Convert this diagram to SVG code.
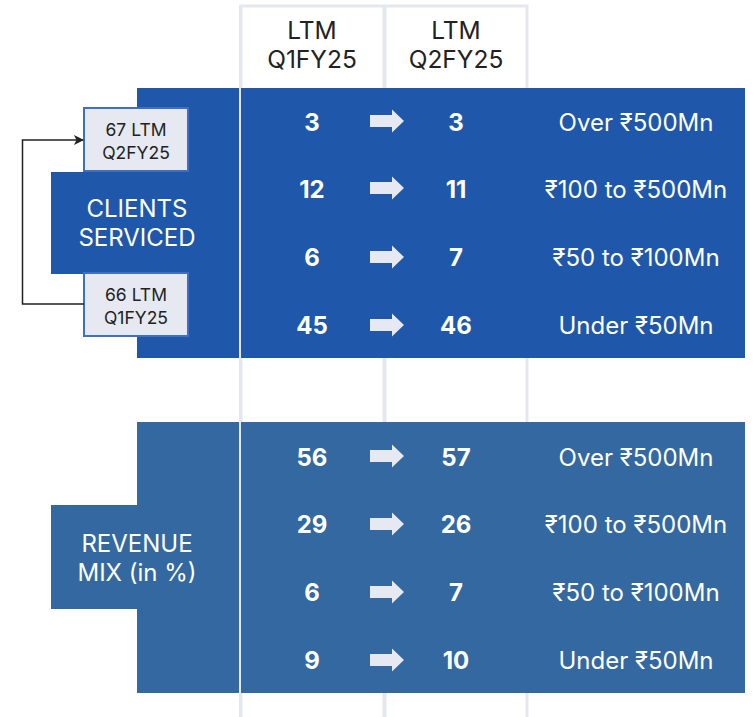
<svg xmlns="http://www.w3.org/2000/svg" width="755" height="717" viewBox="0 0 755 717">
<style>
text{font-family:Inter,"Noto Sans","Liberation Sans",sans-serif;text-anchor:middle}
.hdr{font-size:24.5px;fill:#222}
.num{font-size:24px;font-weight:700;fill:#fff}
.lbl{font-size:24px;fill:#fff}
.side{font-size:24px;fill:#fff}
.tag{font-size:17.5px;fill:#222}
.col{fill:#fff;stroke:#e4e7ef;stroke-width:3}
.top{fill:#1f58aa}
.bot{fill:#3468a0}
.tagbox{fill:#e6e9f2;stroke:#3f6fc0;stroke-width:2}
.div{stroke:#e4e7ef;stroke-width:2}
</style>
<defs>
<marker id="ah" markerWidth="10" markerHeight="10" refX="9" refY="5" orient="auto" markerUnits="userSpaceOnUse">
<path d="M0,0 L10,5 L0,10 L2.5,5 Z" fill="#222"/>
</marker>
<path id="ar" d="M0,-6 L22,-6 L22,-11.5 L34,0 L22,11.5 L22,6 L0,6 Z"/>
</defs>

<g id="header">
<rect class="col" x="241" y="6" width="143" height="720"/>
<rect class="col" x="385" y="6" width="142" height="720"/>
<text class="hdr" x="312" y="39">LTM</text>
<text class="hdr" x="312" y="68">Q1FY25</text>
<text class="hdr" x="456" y="39">LTM</text>
<text class="hdr" x="456" y="68">Q2FY25</text>
</g>

<g id="clients-panel">
<rect class="top" x="137" y="88" width="608" height="270"/>
<rect class="top" x="51" y="172" width="90" height="102"/>
<text class="side" x="137" y="217">CLIENTS</text>
<text class="side" x="137" y="246">SERVICED</text>
<g fill="#e6e9f2">
<use href="#ar" x="370" y="121"/>
<use href="#ar" x="370" y="188"/>
<use href="#ar" x="370" y="257"/>
<use href="#ar" x="370" y="325"/>
</g>
<text class="num" x="312" y="131">3</text><text class="num" x="456" y="131">3</text><text class="lbl" x="636" y="131">Over ₹500Mn</text>
<text class="num" x="312" y="198">12</text><text class="num" x="456" y="198">11</text><text class="lbl" x="636" y="198">₹100 to ₹500Mn</text>
<text class="num" x="312" y="266">6</text><text class="num" x="456" y="266">7</text><text class="lbl" x="636" y="266">₹50 to ₹100Mn</text>
<text class="num" x="312" y="334">45</text><text class="num" x="456" y="334">46</text><text class="lbl" x="636" y="334">Under ₹50Mn</text>
</g>

<g id="revenue-panel">
<rect class="bot" x="137" y="422" width="608" height="271"/>
<rect class="bot" x="51" y="505" width="90" height="104"/>
<text class="side" x="137" y="552">REVENUE</text>
<text class="side" x="137" y="581">MIX (in %)</text>
<g fill="#e6e9f2">
<use href="#ar" x="370" y="456"/>
<use href="#ar" x="370" y="524"/>
<use href="#ar" x="370" y="592"/>
<use href="#ar" x="370" y="660"/>
</g>
<text class="num" x="312" y="466">56</text><text class="num" x="456" y="466">57</text><text class="lbl" x="636" y="466">Over ₹500Mn</text>
<text class="num" x="312" y="533">29</text><text class="num" x="456" y="533">26</text><text class="lbl" x="636" y="533">₹100 to ₹500Mn</text>
<text class="num" x="312" y="601">6</text><text class="num" x="456" y="601">7</text><text class="lbl" x="636" y="601">₹50 to ₹100Mn</text>
<text class="num" x="312" y="669">9</text><text class="num" x="456" y="669">10</text><text class="lbl" x="636" y="669">Under ₹50Mn</text>
</g>

<line class="div" x1="240" y1="5" x2="240" y2="717"/>

<g id="tag-q2">
<rect class="tagbox" x="84" y="108" width="104" height="63"/>
<text class="tag" x="136" y="136">67 LTM</text>
<text class="tag" x="136" y="159">Q2FY25</text>
</g>
<g id="tag-q1">
<rect class="tagbox" x="84" y="273" width="104" height="63"/>
<text class="tag" x="136" y="301">66 LTM</text>
<text class="tag" x="136" y="324">Q1FY25</text>
</g>

<g id="connectors">
<path d="M84,304 L22.5,304 L22.5,140 L83,140" fill="none" stroke="#222" stroke-width="1.5" marker-end="url(#ah)"/>
</g>
</svg>
